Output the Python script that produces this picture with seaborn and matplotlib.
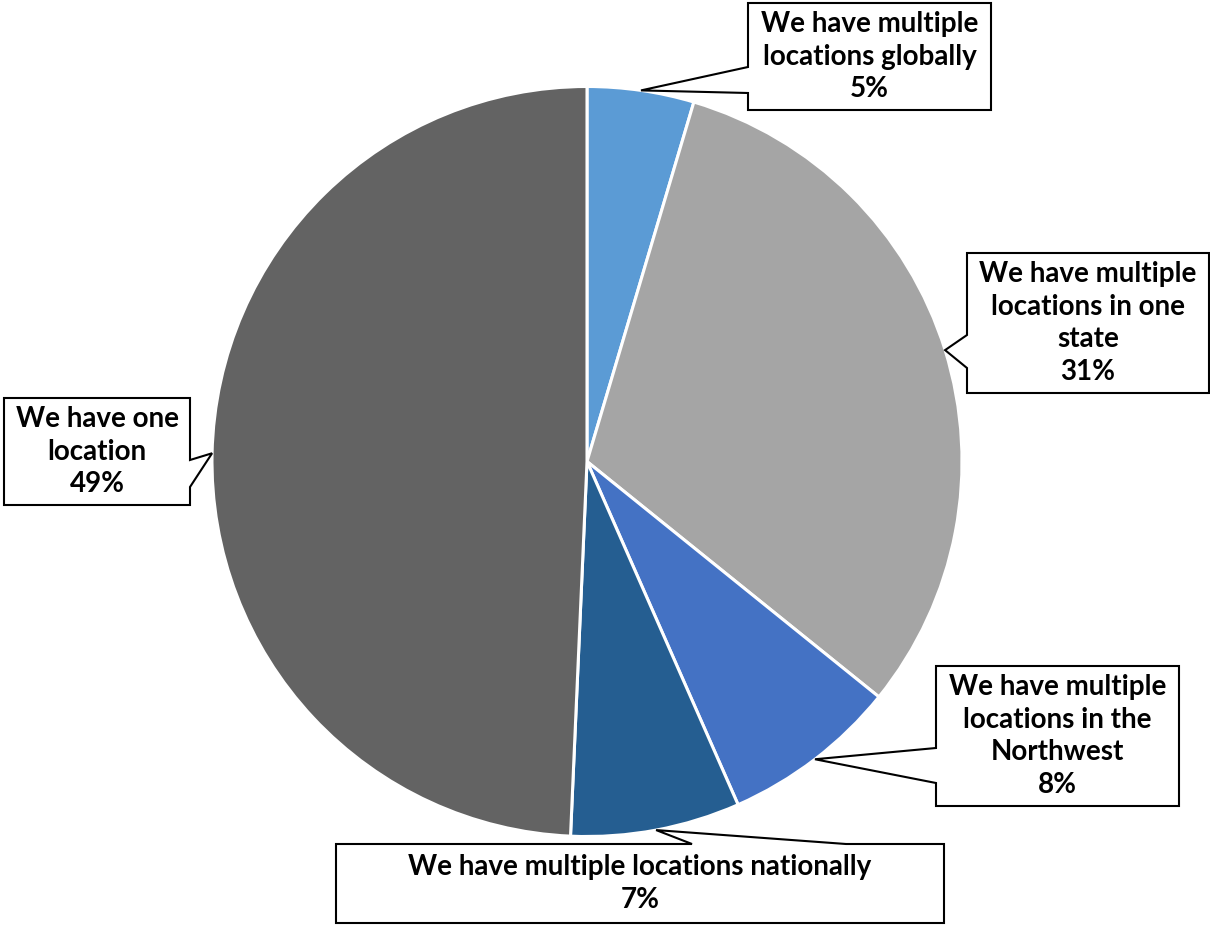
import numpy as np
import matplotlib
matplotlib.use("Agg")
import matplotlib.pyplot as plt
from matplotlib.patches import Polygon
import seaborn as sns

# datos del grafico (sentido horario desde las 12)
categories = [
    "We have multiple\nlocations globally",
    "We have multiple\nlocations in one\nstate",
    "We have multiple\nlocations in the\nNorthwest",
    "We have multiple locations nationally",
    "We have one\nlocation",
]
shares = [4.6, 31.2, 7.6, 7.3, 49.3]
colors = ["#5B9BD5", "#A5A5A5", "#4472C4", "#255E91", "#636363"]

sns.set_theme(style="white")
plt.rcParams['font.family'] = ['Lato', 'DejaVu Sans']

W, H = 1210, 926
fig = plt.figure(figsize=(12.1, 9.26), dpi=100)
ax = fig.add_axes([0, 0, 1, 1])

cx, cy, r = 587, H - 461.5, 375
wedges, _ = ax.pie(shares, colors=colors, startangle=90, counterclock=False,
                   center=(cx, cy), radius=r, frame=True,
                   wedgeprops=dict(edgecolor="white", linewidth=2.2))
ax.set_xlim(0, W)
ax.set_ylim(0, H)
ax.axis("off")

# cajas de etiqueta en pixeles (x0, y0, x1, y1 desde arriba), lado del pico y base del pico
boxes = [
    ((748, 3, 991, 110), "left", (67, 93)),
    ((967, 253, 1209, 393), "left", (335, 368)),
    ((936, 666, 1179, 806), "left", (748, 783)),
    ((336, 844, 944, 923), "top", (692, 846)),
    ((4, 398, 190, 505), "right", (460, 487)),
]

for w, name, val, (box, side, base) in zip(wedges, categories, shares, boxes):
    mid = np.deg2rad((w.theta1 + w.theta2) / 2)
    tip = (cx + r * np.cos(mid), cy + r * np.sin(mid))
    x0, y0, x1, y1 = box
    y0, y1 = H - y0, H - y1  # pasar a coordenadas hacia arriba
    b1, b2 = base
    if side == "left":
        pts = [(x0, y0), (x0, H - b1), tip, (x0, H - b2), (x0, y1), (x1, y1), (x1, y0)]
    elif side == "right":
        pts = [(x0, y0), (x0, y1), (x1, y1), (x1, H - b2), tip, (x1, H - b1), (x1, y0)]
    else:  # top
        pts = [(x0, y0), (b1, y0), tip, (b2, y0), (x1, y0), (x1, y1), (x0, y1)]
    ax.add_patch(Polygon(pts, closed=True, facecolor="white", edgecolor="black",
                         linewidth=1.5, zorder=3, joinstyle="miter"))
    ax.text((x0 + x1) / 2, (y0 + y1) / 2, f"{name}\n{round(val)}%",
            ha="center", va="center", fontsize=20, fontweight="bold",
            linespacing=1.32, color="black", zorder=4)

fig.savefig("out.png", dpi=100)
